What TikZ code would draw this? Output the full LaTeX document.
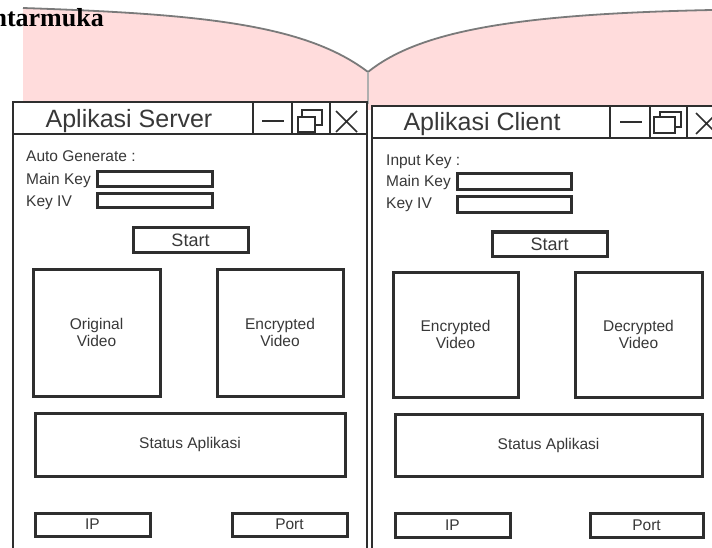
\documentclass[tikz,border=0pt]{standalone}
\usepackage{fontspec}
\setmainfont{Liberation Sans}
\newfontfamily\headfont{Liberation Serif}
\definecolor{ink}{HTML}{2E2E2E}
\definecolor{txt}{HTML}{383838}
\definecolor{pinkbg}{HTML}{FFDCDC}
\definecolor{curveg}{HTML}{7A7A7A}
\tikzset{
  winframe/.style={draw=ink, line width=2.8pt, fill=white},
  winline/.style={draw=ink, line width=2.8pt},
  iconline/.style={draw=ink, line width=2.3pt},
  uibox/.style={draw=ink, line width=3pt, fill=white, inner sep=0pt, text=txt,
    font=\fontsize{15.5}{17}\selectfont, align=center},
  lbl/.style={inner sep=0pt, anchor=base west, text=txt, font=\fontsize{15.5}{17}\selectfont},
  titletext/.style={inner sep=0pt, anchor=base, text=txt, font=\fontsize{25}{28}\selectfont},
}
\begin{document}
\begin{tikzpicture}[x=1pt, y=-1pt]
\useasboundingbox (0,0) rectangle (712,548);
% background book shape
\fill[pinkbg] (23,8) .. controls (200,14) and (305,24) .. (368,72)
  .. controls (420,30) and (520,14) .. (712,10) -- (712,110) -- (23,110) -- cycle;
\draw[curveg, line width=1.8pt] (23,8) .. controls (200,14) and (305,24) .. (368,72)
  .. controls (420,30) and (520,14) .. (712,10);
\draw[curveg!60, line width=1.4pt] (368,72) -- (368,104);
\node[inner sep=0pt, anchor=base east, font=\headfont\bfseries\fontsize{26}{28}\selectfont] (head) at (104,27) {Antarmuka};

% ---------- server window ----------
\draw[winframe] (13,102) rectangle (367,570);
\draw[winline] (13,134) -- (367,134);
\draw[winline] (253,102) -- (253,134);
\draw[winline] (292,102) -- (292,134);
\draw[winline] (330,102) -- (330,134);
\node[titletext] (stitle) at (129,128) {Aplikasi Server};
\draw[iconline] (262,121) -- (284,121);
\draw[iconline] (302,110) rectangle (322,125);
\draw[iconline, fill=white] (298,117) rectangle (315,132);
\draw[iconline, line width=1.6pt] (336,111) -- (357,132) (357,111) -- (336,132);

\node[lbl] (sauto) at (26,162) {Auto Generate :};
\node[lbl] (smk) at (26,185) {Main Key};
\node[lbl] (skiv) at (26,207) {Key IV};
\node[uibox, minimum width=115pt, minimum height=15pt] (smkbox) at (154.5,179.5) {};
\node[uibox, minimum width=115pt, minimum height=14pt] (skivbox) at (154.5,201) {};
\node[uibox, minimum width=115pt, minimum height=24pt, font=\fontsize{18}{20}\selectfont] (sstart) at (190.5,240) {Start};
\node[uibox, minimum width=127pt, minimum height=127pt] (sorig) at (96.5,332.5) {Original\\Video};
\node[uibox, minimum width=126pt, minimum height=127pt] (senc) at (280,332.5) {Encrypted\\Video};
\node[uibox, minimum width=310pt, minimum height=63pt] (sstatus) at (190,444.5) {Status Aplikasi};
\node[uibox, minimum width=115pt, minimum height=23pt] (sip) at (92.5,524.5) {IP};
\node[uibox, minimum width=115pt, minimum height=23pt] (sport) at (289.5,524.5) {Port};

% ---------- client window ----------
\draw[winframe] (372,106) rectangle (730,570);
\draw[winline] (372,138) -- (730,138);
\draw[winline] (610,106) -- (610,138);
\draw[winline] (650,106) -- (650,138);
\draw[winline] (687,106) -- (687,138);
\node[titletext] (ctitle) at (482,131) {Aplikasi Client};
\draw[iconline] (620,122) -- (642,122);
\draw[iconline] (660,112) rectangle (681,127);
\draw[iconline, fill=white] (654,117) rectangle (675,133);
\draw[iconline, line width=1.6pt] (696,113) -- (717,134) (717,113) -- (696,134);

\node[lbl] (cinput) at (386,166) {Input Key :};
\node[lbl] (cmk) at (386,187) {Main Key};
\node[lbl] (ckiv) at (386,208) {Key IV};
\node[uibox, minimum width=114pt, minimum height=16pt] (cmkbox) at (514,182) {};
\node[uibox, minimum width=114pt, minimum height=16pt] (ckivbox) at (514,205) {};
\node[uibox, minimum width=115pt, minimum height=24pt, font=\fontsize{18}{20}\selectfont] (cstart) at (549.5,244) {Start};
\node[uibox, minimum width=125pt, minimum height=125pt] (cenc) at (455.5,334.5) {Encrypted\\Video};
\node[uibox, minimum width=127pt, minimum height=125pt] (cdec) at (638.5,334.5) {Decrypted\\Video};
\node[uibox, minimum width=307pt, minimum height=62pt] (cstatus) at (548.5,445) {Status Aplikasi};
\node[uibox, minimum width=115pt, minimum height=24pt] (cip) at (452.5,525) {IP};
\node[uibox, minimum width=113pt, minimum height=24pt] (cport) at (646.5,525) {Port};
\end{tikzpicture}
\end{document}
